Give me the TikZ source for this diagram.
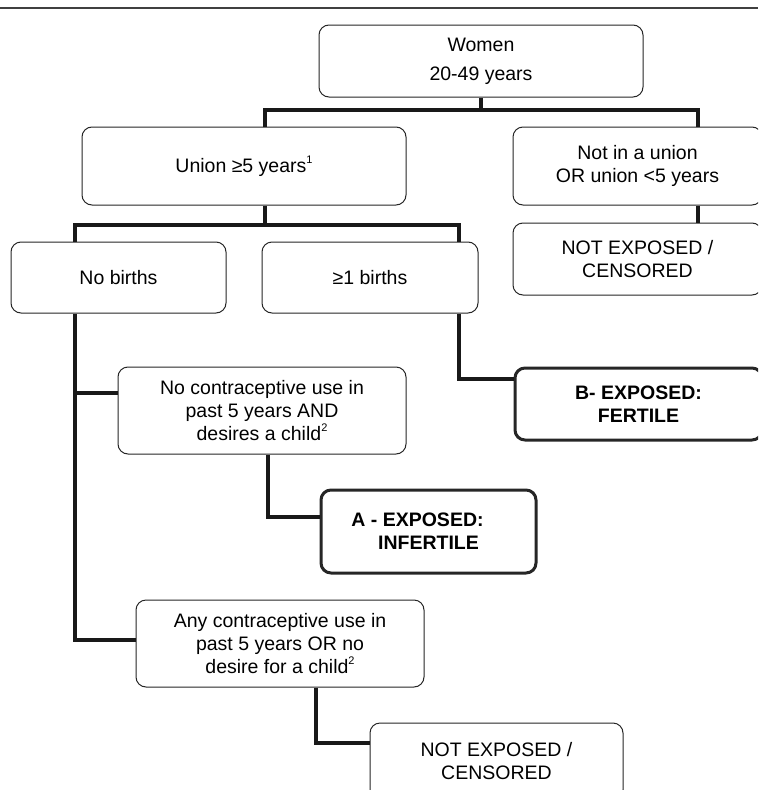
\documentclass[tikz,border=0pt]{standalone}
\usepackage{fontspec}
\setmainfont{Liberation Sans}
\newcommand{\supnum}[1]{\raisebox{0.45em}{\fontsize{11}{11}\selectfont #1}}
\begin{document}
\begin{tikzpicture}[x=1pt,y=-1pt,
  box/.style={draw=black!85,line width=1pt,rounded corners=10pt,fill=white,
    align=center,inner sep=0pt,font=\fontsize{19.5}{23}\selectfont},
  bigbox/.style={box,line width=3pt,font=\fontsize{19.5}{23}\selectfont\bfseries},
  conn/.style={line width=3.5pt,black!90}]
  \useasboundingbox (0,0) rectangle (758,790);
  \clip (0,0) rectangle (758,790);
  \draw[line width=2pt,black!75] (0,8) -- (758,8);
  \node[box,minimum width=324pt,minimum height=72pt] (women) at (481,61) {Women\\[6pt]20-49 years};
  \node[box,minimum width=324pt,minimum height=78pt] (union) at (244,166) {Union ≥5 years\supnum{1}};
  \node[box,minimum width=249pt,minimum height=78pt] (notunion) at (637.5,166) {Not in a union\\OR union <5 years};
  \node[box,minimum width=215pt,minimum height=71pt] (nobirth) at (118.5,277.5) {No births};
  \node[box,minimum width=216pt,minimum height=71pt] (onebirth) at (370,277.5) {≥1 births};
  \node[box,minimum width=249pt,minimum height=72pt] (ne1) at (637.5,259) {NOT EXPOSED /\\CENSORED};
  \node[box,minimum width=288pt,minimum height=87pt] (nocontr) at (262,410.5) {No contraceptive use in\\past 5 years AND\\desires a child\supnum{2}};
  \node[bigbox,minimum width=247pt,minimum height=72pt] (expB) at (638.5,404) {B- EXPOSED:\\FERTILE};
  \node[bigbox,minimum width=215pt,minimum height=83pt] (expA) at (428.5,531.5) {\hspace*{-22pt}A - EXPOSED:\\INFERTILE};
  \node[box,minimum width=288pt,minimum height=87pt] (anyuse) at (280,643.5) {Any contraceptive use in\\past 5 years OR no\\desire for a child\supnum{2}};
  \node[box,minimum width=253pt,minimum height=77pt] (ne2) at (496.5,761.5) {NOT EXPOSED /\\CENSORED};
  \coordinate (k1) at (265,110);
  \coordinate (k2) at (698,110);
  \draw[conn] (women.south) -- (women.south |- k1);
  \draw[conn] (union.north -| k1) -- (k1) -- (k2) -- (notunion.north -| k2);
  \draw[conn] (notunion.south -| k2) -- (ne1.north -| k2);
  \coordinate (k3) at (75,225);
  \coordinate (k4) at (459,225);
  \draw[conn] (union.south -| k1) -- (k1 |- k3);
  \draw[conn] (nobirth.north -| k3) -- (k3) -- (k4) -- (onebirth.north -| k4);
  \coordinate (k5) at (75,393);
  \coordinate (k6) at (75,640);
  \draw[conn] (nobirth.south -| k3) -- (k6) -- (anyuse.west |- k6);
  \draw[conn] (k5) -- (nocontr.west |- k5);
  \coordinate (k7) at (459,379);
  \draw[conn] (onebirth.south -| k7) -- (k7) -- (expB.west |- k7);
  \coordinate (k8) at (268,517);
  \draw[conn] (nocontr.south -| k8) -- (k8) -- (expA.west |- k8);
  \coordinate (k9) at (316,743);
  \draw[conn] (anyuse.south -| k9) -- (k9) -- (ne2.west |- k9);
\end{tikzpicture}
\end{document}
